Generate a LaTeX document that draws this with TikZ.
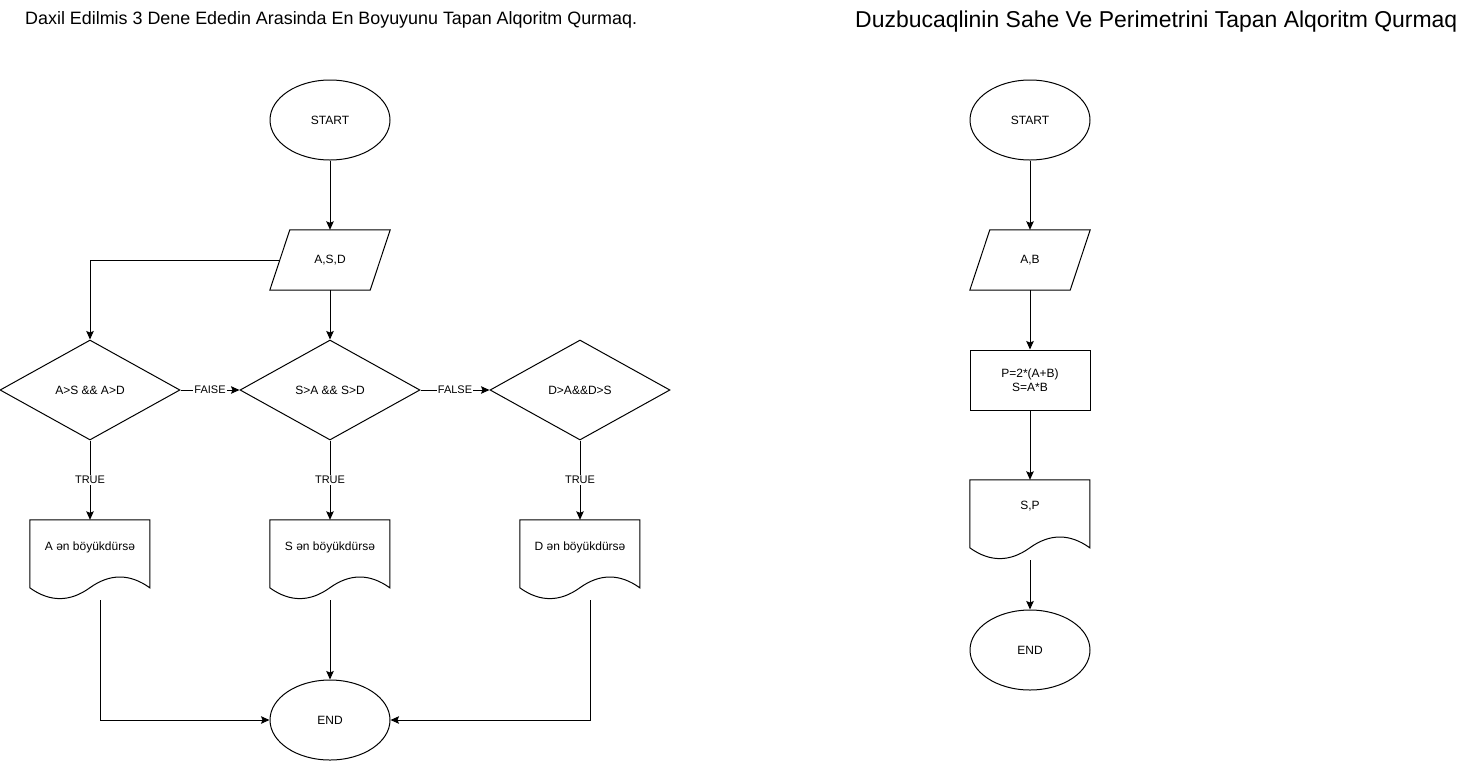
\documentclass[tikz,border=0pt]{standalone}
\usepackage{fontspec}
\setmainfont{Liberation Sans}
\usetikzlibrary{shapes.geometric,arrows.meta,calc}
\tikzset{
  shp/.style={draw=black,line width=1pt},
  lbl/.style={font=\fontsize{12}{14}\selectfont,inner sep=0pt},
  elbl/.style={font=\fontsize{11}{13}\selectfont,fill=white,inner sep=1pt},
  term/.style={shp,ellipse,minimum width=120,minimum height=80,inner sep=0pt,font=\fontsize{12}{14}\selectfont},
  dec/.style={shp,diamond,minimum width=180,minimum height=100,aspect=1.8,inner sep=0pt,font=\fontsize{12}{14}\selectfont},
  procbox/.style={shp,rectangle,minimum width=120,minimum height=60,inner sep=0pt,font=\fontsize{12}{14}\selectfont,align=center},
  iobox/.style={rectangle,minimum width=120,minimum height=60,inner sep=0pt,font=\fontsize{12}{14}\selectfont},
  docbox/.style={rectangle,minimum width=120,minimum height=80,inner sep=0pt},
  arr/.style={line width=1pt,-{Stealth[length=8.5pt,width=7.5pt,inset=1.5pt]}},
  ln/.style={line width=1pt},
}
\newcommand\iopath[1]{\draw[shp] ($(#1.north west)+(20,0)$) -- (#1.north east) -- ($(#1.south east)+(-20,0)$) -- (#1.south west) -- cycle;}
\newcommand\docpath[1]{\begin{scope}[shift={(#1.north west)}]\draw[shp] (0,0) -- (120,0) -- (120,68) .. controls (100,53.6) and (80,53.6) .. (60,68) .. controls (40,82.4) and (20,82.4) .. (0,68) -- cycle;\end{scope}}
\begin{document}
\begin{tikzpicture}[x=1pt,y=-1pt]
\useasboundingbox (0,0) rectangle (1472,761);
% titles
\node[anchor=west,inner sep=0pt,font=\fontsize{17.9}{20}\selectfont] (t1) at (25,20) {Daxil Edilmis 3 Dene Ededin Arasinda En Boyuyunu Tapan Alqoritm Qurmaq.};
\node[anchor=west,inner sep=0pt,font=\fontsize{22.95}{26}\selectfont] (t2) at (855,22) {Duzbucaqlinin Sahe Ve Perimetrini Tapan Alqoritm Qurmaq};
% left chart
\node[term] (s1) at (330,120) {START};
\node[iobox] (io1) at (330,260) {A,S,D};
\iopath{io1}
\node[dec] (d1) at (90,390) {A>S \&\& A>D};
\node[dec] (d2) at (330,390) {S>A \&\& S>D};
\node[dec] (d3) at (580,390) {D>A\&\&D>S};
\node[docbox] (dA) at (90,560) {};
\docpath{dA}
\node[lbl] (dAt) at ($(dA.north)+(0,28)$) {A ən böyükdürsə};
\node[docbox] (dS) at (330,560) {};
\docpath{dS}
\node[lbl] (dSt) at ($(dS.north)+(0,28)$) {S ən böyükdürsə};
\node[docbox] (dD) at (580,560) {};
\docpath{dD}
\node[lbl] (dDt) at ($(dD.north)+(0,28)$) {D ən böyükdürsə};
\node[term] (e1) at (330,720) {END};
\draw[arr] (s1) -- (io1);
\draw[arr] (io1) -- (d2);
\draw[arr] ($(io1.west)+(10,0)$) -| (d1.north);
\draw[arr] (d1) -- node[elbl] (lf1) {FAISE} (d2);
\draw[arr] (d2) -- node[elbl] (lf2) {FALSE} (d3);
\draw[arr] (d1) -- node[elbl] (lt1) {TRUE} (dA);
\draw[arr] (d2) -- node[elbl] (lt2) {TRUE} (dS);
\draw[arr] (d3) -- node[elbl] (lt3) {TRUE} (dD);
\draw[arr] ($(dA.south)+(10,0)$) |- (e1.west);
\draw[arr] (dS.south) -- (e1.north);
\draw[arr] ($(dD.south)+(10,0)$) |- (e1.east);
% right chart
\node[term] (s2) at (1030,120) {START};
\node[iobox] (io2) at (1030,260) {A,B};
\iopath{io2}
\node[procbox] (p2) at (1030,380) {P=2*(A+B)\\S=A*B};
\node[docbox] (dP) at (1030,520) {};
\docpath{dP}
\node[lbl] (dPt) at ($(dP.north)+(0,26)$) {S,P};
\node[term] (e2) at (1030,650) {END};
\draw[arr] (s2) -- (io2);
\draw[arr] (io2) -- (p2);
\draw[arr] (p2) -- (dP);
\draw[arr] (dP.south) -- (e2);
\end{tikzpicture}
\end{document}
